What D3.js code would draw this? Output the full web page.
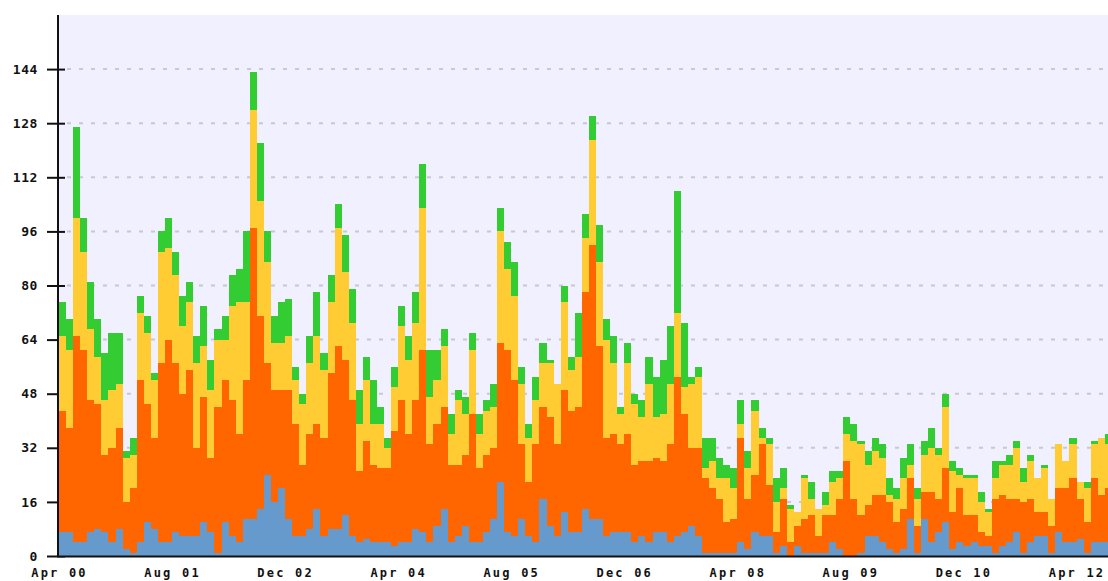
<!DOCTYPE html>
<html>
<head>
<meta charset="utf-8">
<script src="https://cdn.jsdelivr.net/npm/d3@7/dist/d3.min.js"></script>
<style>
  html, body { margin: 0; padding: 0; background: #fff; overflow: hidden; }
  svg { display: block; }
  .axis text { font-family: "DejaVu Sans Mono", monospace; font-weight: bold; fill: #111; }
</style>
</head>
<body>
<svg id="chart" width="1108" height="581"></svg>
<script>
// monthly counts, Apr 2000 .. Aug 2012, bottom to top of each stack
const tickLabels = ["Apr 00", "Aug 01", "Dec 02", "Apr 04", "Aug 05", "Dec 06", "Apr 08", "Aug 09", "Dec 10", "Apr 12"];
const yTicks = [0, 16, 32, 48, 64, 80, 96, 112, 128, 144];

const blueVals = [7, 7, 4, 4, 7, 8, 7, 4, 8, 2, 1, 4, 10, 8, 4, 4, 7, 6, 6, 6,
  10, 7, 1, 10, 6, 4, 11, 11, 14, 24, 16, 20, 11, 6, 6, 8, 14, 6, 8, 8,
  12, 6, 4, 5, 4, 4, 4, 3, 4, 4, 8, 7, 4, 9, 14, 4, 6, 9, 4, 4,
  7, 11, 22, 7, 6, 11, 6, 4, 17, 9, 6, 13, 7, 7, 14, 11, 11, 6, 7, 7,
  7, 4, 6, 4, 7, 7, 4, 6, 7, 9, 6, 1, 1, 1, 1, 1, 4, 2, 7, 6,
  6, 1, 3, 0, 3, 1, 1, 1, 1, 4, 2, 0, 0, 1, 6, 6, 4, 2, 1, 2,
  11, 1, 11, 4, 7, 10, 2, 4, 3, 4, 3, 3, 1, 3, 4, 7, 1, 4, 6, 6,
  1, 7, 4, 4, 5, 1, 4, 4, 4];
const orangeVals = [36, 31, 61, 57, 39, 37, 23, 28, 30, 14, 19, 48, 35, 27, 53, 60, 50, 42, 49, 26,
  37, 22, 43, 42, 40, 32, 41, 86, 57, 33, 33, 29, 38, 33, 21, 28, 25, 29, 46, 54,
  46, 40, 21, 29, 23, 22, 22, 34, 42, 32, 38, 54, 29, 30, 30, 23, 21, 21, 38, 22,
  23, 21, 41, 54, 46, 22, 16, 29, 27, 32, 27, 36, 36, 37, 64, 81, 51, 29, 29, 26,
  29, 23, 22, 24, 22, 21, 29, 47, 35, 23, 26, 22, 19, 16, 9, 10, 31, 15, 17, 27,
  15, 6, 14, 4, 6, 10, 11, 5, 11, 8, 15, 28, 17, 11, 9, 12, 14, 14, 9, 12,
  12, 8, 8, 15, 10, 16, 11, 16, 9, 8, 4, 3, 16, 15, 13, 10, 15, 13, 7, 7,
  8, 13, 16, 19, 12, 9, 19, 14, 16];
const yellowVals = [22, 23, 35, 29, 21, 14, 16, 17, 13, 13, 10, 20, 21, 17, 33, 27, 26, 20, 20, 25,
  15, 20, 20, 12, 28, 39, 23, 35, 34, 30, 14, 14, 16, 13, 18, 21, 26, 20, 21, 35,
  26, 23, 14, 18, 12, 13, 6, 13, 22, 22, 23, 42, 14, 13, 18, 9, 19, 12, 19, 10,
  13, 12, 33, 24, 25, 18, 13, 13, 13, 16, 18, 26, 12, 15, 16, 31, 25, 29, 21, 9,
  21, 18, 13, 23, 12, 14, 18, 19, 8, 19, 21, 3, 8, 6, 13, 9, 4, 9, 19, 2,
  12, 9, 3, 10, 4, 12, 5, 8, 3, 10, 6, 8, 17, 21, 12, 13, 11, 2, 7, 9,
  4, 8, 11, 13, 13, 18, 12, 4, 11, 11, 9, 7, 6, 9, 10, 15, 6, 11, 10, 13,
  8, 13, 8, 10, 5, 10, 10, 17, 13];
const greenVals = [10, 9, 27, 10, 14, 11, 14, 17, 15, 2, 5, 5, 5, 2, 6, 9, 7, 9, 6, 8,
  12, 9, 3, 7, 9, 10, 21, 11, 17, 9, 8, 12, 11, 4, 3, 8, 13, 5, 8, 7,
  11, 10, 10, 7, 13, 5, 3, 6, 6, 7, 9, 13, 14, 9, 5, 6, 3, 5, 5, 6,
  3, 7, 7, 8, 10, 5, 4, 7, 6, 1, 0, 5, 4, 13, 7, 7, 11, 6, 8, 2,
  6, 3, 5, 8, 12, 16, 17, 36, 19, 2, 3, 9, 7, 6, 4, 6, 7, 5, 3, 3,
  2, 7, 6, 1, 0, 1, 5, 0, 4, 3, 2, 5, 5, 1, 4, 4, 4, 5, 3, 6,
  6, 3, 4, 6, 2, 4, 3, 2, 1, 1, 3, 1, 5, 1, 3, 2, 4, 2, 0, 1,
  0, 0, 0, 2, 0, 2, 1, 0, 3];

const keys = ["blue", "orange", "yellow", "green"];
const colors = { blue: "#6699cc", orange: "#ff6600", yellow: "#ffcc33", green: "#33cc33" };

const table = blueVals.map((b, i) => ({
  month: i, blue: b, orange: orangeVals[i], yellow: yellowVals[i], green: greenVals[i]
}));

const svg = d3.select("#chart");
const plotLeft = 59, plotTop = 15, plotBottom = 556;
const step = 7.066;
const n = table.length;

const x = d3.scaleLinear().domain([0, n]).range([plotLeft, plotLeft + n * step]);
const y = d3.scaleLinear().domain([0, 160]).range([plotBottom, plotTop]);

// plot background
svg.append("rect")
  .attr("x", plotLeft).attr("y", plotTop)
  .attr("width", 1108 - plotLeft).attr("height", plotBottom - plotTop)
  .attr("fill", "#f0f0ff");

// dashed grid
svg.append("g").selectAll("line")
  .data(yTicks.filter(d => d > 0))
  .join("line")
  .attr("x1", plotLeft + 8).attr("x2", 1108)
  .attr("y1", d => y(d)).attr("y2", d => y(d))
  .attr("stroke", "#c8c8d0")
  .attr("stroke-width", 2)
  .attr("stroke-dasharray", "4,8");

// y axis ticks + labels
const yAxis = svg.append("g")
  .attr("class", "axis")
  .attr("transform", `translate(${plotLeft - 1},0)`)
  .call(d3.axisLeft(y).tickValues(yTicks).tickSize(11).tickPadding(9));
yAxis.select(".domain").remove();
yAxis.selectAll(".tick line").attr("x1", 7).attr("stroke", "#111").attr("stroke-width", 2);
yAxis.selectAll(".tick text").attr("font-size", 13).attr("letter-spacing", 0.6);

// stacked bars
const series = d3.stack().keys(keys)(table);
svg.append("g")
  .attr("shape-rendering", "crispEdges")
  .selectAll("g")
  .data(series)
  .join("g")
  .attr("fill", d => colors[d.key])
  .selectAll("rect")
  .data(d => d)
  .join("rect")
  .attr("x", d => Math.round(x(d.data.month)))
  .attr("width", d => Math.round(x(d.data.month + 1)) - Math.round(x(d.data.month)))
  .attr("y", d => Math.round(y(d[1])))
  .attr("height", d => Math.round(y(d[0])) - Math.round(y(d[1])));

// axis lines
svg.append("line")
  .attr("x1", plotLeft - 1).attr("x2", plotLeft - 1)
  .attr("y1", plotTop).attr("y2", plotBottom + 1)
  .attr("stroke", "#111").attr("stroke-width", 2);
svg.append("line")
  .attr("x1", plotLeft - 2).attr("x2", 1108)
  .attr("y1", plotBottom + 0.5).attr("y2", plotBottom + 0.5)
  .attr("stroke", "#111").attr("stroke-width", 2);

// x labels every 16 months
const xAxis = svg.append("g")
  .attr("class", "axis")
  .attr("transform", `translate(0,${plotBottom})`)
  .call(d3.axisBottom(x)
    .tickValues(d3.range(0, n, 16))
    .tickFormat((d, i) => tickLabels[i])
    .tickSize(0).tickPadding(12));
xAxis.select(".domain").remove();
xAxis.selectAll(".tick text").attr("font-size", 12).attr("letter-spacing", 2.2);
</script>
</body>
</html>
